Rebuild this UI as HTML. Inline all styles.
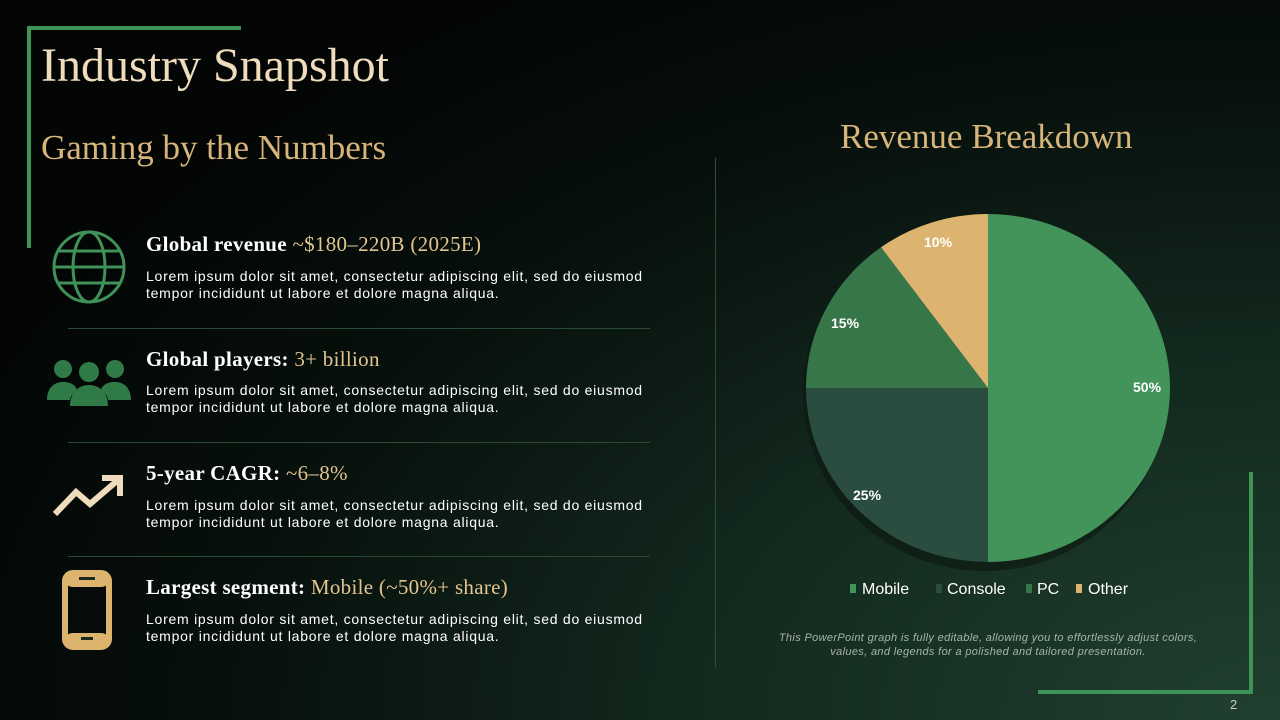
<!DOCTYPE html>
<html><head><meta charset="utf-8"><style>
body{margin:0}
.s{position:relative;width:1280px;height:720px;overflow:hidden;background:radial-gradient(ellipse 110% 120% at 100% 100%,#21402f 0%,#132a1f 40%,#07100c 75%,#030605 100%);font-family:"Liberation Sans",sans-serif}
.a{position:absolute}
.serif{font-family:"Liberation Serif",serif}
h1{position:absolute;left:41px;top:38px;margin:0;font:400 48px "Liberation Serif",serif;color:#eedcbc}
.sub{left:41px;top:128px;font:400 35px "Liberation Serif",serif;color:#d7b57a}
.t{left:146px;font:700 21px "Liberation Serif",serif;color:#fff;letter-spacing:0.3px}
.t span{font-weight:400;color:#e3c58f}
.p{left:146px;font-size:14px;line-height:17px;color:#fff;width:530px;letter-spacing:0.75px}
.hr{left:68px;width:582px;height:1px;background:#284a36}
</style></head><body><div class="s">
<div class="a" style="left:27px;top:26px;width:214px;height:4px;background:#3f9258"></div>
<div class="a" style="left:27px;top:26px;width:4px;height:222px;background:#3f9258"></div>
<div class="a" style="left:1038px;top:690px;width:215px;height:4px;background:#3f9258"></div>
<div class="a" style="left:1249px;top:472px;width:4px;height:222px;background:#3f9258"></div>
<div class="a" style="left:715px;top:158px;width:1px;height:510px;background:#2b4d3a"></div>
<h1>Industry Snapshot</h1>
<div class="a sub">Gaming by the Numbers</div>

<svg class="a" style="left:50px;top:230px" width="78" height="76" viewBox="0 0 78 76"><g fill="none" stroke="#3f9258" stroke-width="3"><circle cx="39" cy="37" r="35"/><ellipse cx="39" cy="37" rx="16" ry="35"/><line x1="4" y1="37" x2="74" y2="37"/><line x1="9" y1="21" x2="69" y2="21"/><line x1="9" y1="53" x2="69" y2="53"/></g></svg>
<div class="a t" style="top:232px">Global revenue <span>~$180–220B (2025E)</span></div>
<div class="a p" style="top:268px">Lorem ipsum dolor sit amet, consectetur adipiscing elit, sed do eiusmod tempor incididunt ut labore et dolore magna aliqua.</div>
<div class="a hr" style="top:328px"></div>

<svg class="a" style="left:46px;top:358px" width="86" height="48" viewBox="0 0 86 48"><g fill="#2f7a46"><circle cx="17" cy="11" r="9"/><circle cx="69" cy="11" r="9"/><circle cx="43" cy="14" r="10"/><path d="M1 42c0-12 7-18 16-18s13 4 14 8c-4 3-7 7-7 10z"/><path d="M85 42c0-12-7-18-16-18s-13 4-14 8c4 3 7 7 7 10z"/><path d="M24 48c0-13 8-21 19-21s19 8 19 21z"/></g></svg>
<div class="a t" style="top:347px">Global players: <span>3+ billion</span></div>
<div class="a p" style="top:382px">Lorem ipsum dolor sit amet, consectetur adipiscing elit, sed do eiusmod tempor incididunt ut labore et dolore magna aliqua.</div>
<div class="a hr" style="top:442px"></div>

<svg class="a" style="left:52px;top:474px" width="74" height="44" viewBox="0 0 74 44"><g fill="none" stroke="#eedcbc" stroke-width="6" stroke-linejoin="miter"><polyline points="3,40 24,18 38,30 66,6"/><polyline points="50,4 68,4 68,22"/></g></svg>
<div class="a t" style="top:461px">5-year CAGR: <span>~6–8%</span></div>
<div class="a p" style="top:497px">Lorem ipsum dolor sit amet, consectetur adipiscing elit, sed do eiusmod tempor incididunt ut labore et dolore magna aliqua.</div>
<div class="a hr" style="top:556px"></div>

<svg class="a" style="left:61px;top:569px" width="52" height="82" viewBox="0 0 52 82"><rect x="4" y="4" width="44" height="74" rx="8" fill="none" stroke="#dcb46e" stroke-width="6"/><rect x="4" y="4" width="44" height="14" rx="8" fill="#dcb46e"/><rect x="4" y="64" width="44" height="14" rx="8" fill="#dcb46e"/><rect x="18" y="8" width="16" height="3" fill="#1a2a20"/><rect x="20" y="68" width="12" height="3" fill="#1a2a20"/></svg>
<div class="a t" style="top:575px">Largest segment: <span>Mobile (~50%+ share)</span></div>
<div class="a p" style="top:611px">Lorem ipsum dolor sit amet, consectetur adipiscing elit, sed do eiusmod tempor incididunt ut labore et dolore magna aliqua.</div>

<div class="a serif" style="left:840px;top:117px;font-size:35px;color:#d7b57a">Revenue Breakdown</div>
<svg class="a" style="left:0;top:0" width="1280" height="720">
<ellipse cx="985" cy="393" rx="182" ry="178" fill="#0d1a12" opacity="0.7"/>
<g transform="translate(988,388)">
<path d="M0 0V-174A182 174 0 0 1 0 174Z" fill="#42945a"/>
<path d="M0 0V174A182 174 0 0 1 -182 0Z" fill="#2a4d3f"/>
<path d="M0 0H-182A182 174 0 0 1 -106.98 -140.77Z" fill="#367648"/>
<path d="M0 0L-106.98 -140.77A182 174 0 0 1 0 -174Z" fill="#ddb46f"/>
</g>
<g font-family="Liberation Sans" font-weight="700" font-size="14" fill="#fff">
<text x="924" y="247">10%</text><text x="831" y="328">15%</text><text x="1133" y="392">50%</text><text x="853" y="500">25%</text></g>
<g font-family="Liberation Sans" font-size="16" fill="#fff">
<rect x="850" y="584" width="6" height="9" fill="#42945a"/><text x="862" y="594">Mobile</text>
<rect x="936" y="584" width="6" height="9" fill="#2a4d3f"/><text x="947" y="594">Console</text>
<rect x="1026" y="584" width="6" height="9" fill="#367648"/><text x="1037" y="594">PC</text>
<rect x="1076" y="584" width="6" height="9" fill="#ddb46f"/><text x="1088" y="594">Other</text></g>
</svg>
<div class="a" style="left:760px;top:631px;width:456px;text-align:center;font-style:italic;font-size:11px;line-height:14px;color:#a8b3ad;letter-spacing:0.35px">This PowerPoint graph is fully editable, allowing you to effortlessly adjust colors, values, and legends for a polished and tailored presentation.</div>
<div class="a" style="left:1230px;top:697px;font-size:13px;color:#ccc">2</div>
</div></body></html>
